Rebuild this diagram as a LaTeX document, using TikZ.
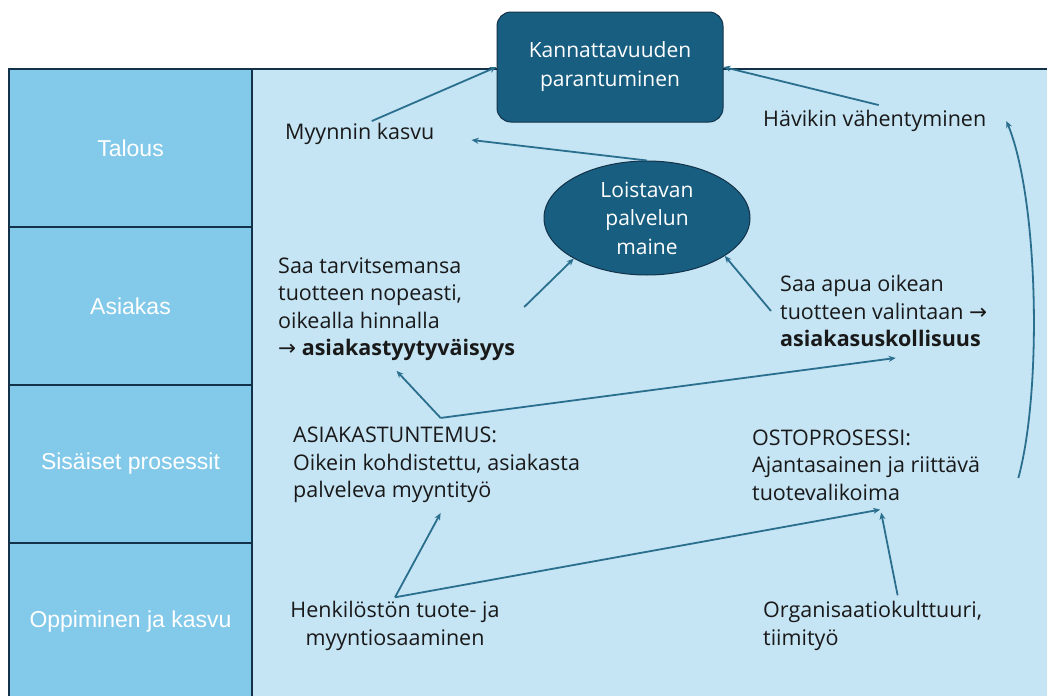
\documentclass[tikz,border=0pt]{standalone}
\usepackage{fontspec}
\setmainfont{Open Sans}
\newfontfamily\rowfont{Liberation Sans}
\newfontfamily\symfont{DejaVu Sans}
\usetikzlibrary{shapes.geometric,arrows.meta}
\definecolor{rowblue}{HTML}{83C9EA}
\definecolor{areablue}{HTML}{C5E4F4}
\definecolor{darkteal}{HTML}{185E80}
\definecolor{edgenavy}{HTML}{13324A}
\definecolor{arrowteal}{HTML}{2A6F8E}

\begin{document}
\begin{tikzpicture}[x=1pt,y=-1pt,
    rowcell/.style={draw=edgenavy, line width=1.2pt, fill=rowblue},
    rowlabel/.style={font=\rowfont\fontsize{23}{27}\selectfont, text=white},
    txt/.style={anchor=west, align=left, inner sep=0pt, text=black!90, font=\fontsize{21.5}{27.5}\selectfont},
    kbox/.style={draw=edgenavy, line width=1pt, fill=darkteal, rounded corners=14pt, minimum width=226pt, minimum height=110pt, align=center, text=white, font=\fontsize{21}{29}\selectfont},
    kell/.style={ellipse, draw=edgenavy, line width=1pt, fill=darkteal, minimum width=206pt, minimum height=114pt, inner sep=0pt, align=center, text=white, font=\fontsize{21}{28.5}\selectfont},
    link/.style={draw=arrowteal, line width=1.8pt, -{Stealth[length=7pt,width=6pt]}}]
    \clip (0,0) rectangle (1047,696);
    \fill[white] (0,0) rectangle (1047,696);
    \draw[fill=areablue, draw=edgenavy, line width=1.2pt] (252,69) rectangle (1070,720);
    \foreach \y/\nm/\lab in {69/talous/Talous, 227/asiakas/Asiakas, 385/prosessit/Sisäiset prosessit, 543/oppiminen/Oppiminen ja kasvu} {
        \draw[rowcell] (9,\y) rectangle (252,\y+158);
        \node[rowlabel] (\nm) at (130.5,\y+79) {\lab};
    }

    \node[kbox] (kann) at (610,67) {Kannattavuuden\\parantuminen};
    \node[kell] (maine) at (647,218) {Loistavan\\palvelun\\maine};

    \node[txt] (myynti) at (285,134) {Myynnin kasvu};
    \node[txt] (havikki) at (763,121) {Hävikin vähentyminen};
    \node[txt] (tyyt) at (278,309) {Saa tarvitsemansa\\tuotteen nopeasti,\\oikealla hinnalla\\{\symfont →} \textbf{asiakastyytyväisyys}};
    \node[txt] (usk) at (780,311) {Saa apua oikean\\tuotteen valintaan {\symfont →}\\\textbf{asiakasuskollisuus}};
    \node[txt] (tuntemus) at (293,465) {ASIAKASTUNTEMUS:\\Oikein kohdistettu, asiakasta\\palveleva myyntityö};
    \node[txt] (osto) at (752,465) {OSTOPROSESSI:\\Ajantasainen ja riittävä\\tuotevalikoima};
    \node[txt, anchor=center, align=center] (osaaminen) at (395,626) {Henkilöstön tuote- ja\\myyntiosaaminen};
    \node[txt] (kulttuuri) at (763,626) {Organisaatiokulttuuri,\\tiimityö};

    \coordinate (haara) at ([xshift=4pt,yshift=9pt]tuntemus.north);

    \draw[link] ([xshift=12pt,yshift=2pt]myynti.north) -- (kann.west);
    \draw[link] ([xshift=4pt,yshift=5pt]havikki.north) -- (kann.east);
    \draw[link] (maine.north) -- ([xshift=37pt,yshift=-6pt]myynti.east);
    \draw[link] ([xshift=9pt,yshift=2pt]tyyt.east) -- (maine.209);
    \draw[link] ([xshift=-9pt]usk.west) -- (maine.-26);
    \draw[link] (haara) -- ([yshift=-10pt]tyyt.south);
    \draw[link] (haara) -- ([xshift=12pt,yshift=-11pt]usk.south);
    \draw[link] ([yshift=4pt]osaaminen.north) -- ([xshift=4pt,yshift=-10pt]tuntemus.south);
    \draw[link] ([yshift=4pt]osaaminen.north) -- ([xshift=14pt,yshift=-9pt]osto.south);
    \draw[link] ([xshift=25pt,yshift=6pt]kulttuuri.north) -- ([xshift=15pt,yshift=-12pt]osto.south);
    \draw[link] ([xshift=38pt,yshift=-13pt]osto.east) .. controls +(24,-88) and +(32,78) .. ([xshift=20pt]havikki.east);
\end{tikzpicture}
\end{document}
